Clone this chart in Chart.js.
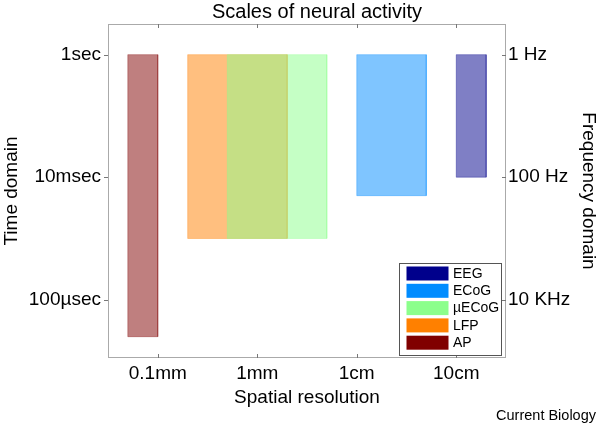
<!DOCTYPE html>
<html>
<head>
<meta charset="utf-8">
<script src="https://cdn.jsdelivr.net/npm/chart.js@4/dist/chart.umd.min.js"></script>
<style>
  body { margin: 0; background: #fff; }
  #wrap { position: relative; width: 600px; height: 426px; }
</style>
</head>
<body>
<div id="wrap"><canvas id="chart" width="600" height="426"></canvas></div>
<script>
// recording methods, spatial extent (m) and time extent (s)
const names = ['EEG', 'ECoG', 'µECoG', 'LFP', 'AP']
const sizeMin = [0.1, 0.01, 0.0005, 0.0002, 0.00005]
const sizeMax = [0.2, 0.05, 0.005, 0.002, 0.0001]
const timeMax = [1, 1, 1, 1, 1]
const timeMin = [0.01, 0.005, 0.001, 0.001, 0.000025]
const colors = ['0,0,140', '0,140,255', '140,255,140', '255,128,0', '128,0,0']

// tick labels
const xTicks = [1e-4, 1e-3, 1e-2, 1e-1]
const xTickLabels = ['0.1mm', '1mm', '1cm', '10cm']
const yTicks = [1, 1e-2, 1e-4]
const timeLabels = ['1sec', '10msec', '100µsec']
const freqLabels = ['1 Hz', '100 Hz', '10 KHz']

const FONT = '"Liberation Sans", Arial, Helvetica, sans-serif'
Chart.defaults.font.family = FONT
Chart.defaults.color = '#000'

// each method is a closed rectangle in (size, time)
const datasets = names.map((name, i) => ({
  label: name,
  data: [
    { x: sizeMin[i], y: timeMax[i] },
    { x: sizeMax[i], y: timeMax[i] },
    { x: sizeMax[i], y: timeMin[i] },
    { x: sizeMin[i], y: timeMin[i] },
    { x: sizeMin[i], y: timeMax[i] },
  ],
  showLine: true,
  fill: 'shape',
  tension: 0,
  pointRadius: 0,
  borderWidth: 1,
  borderColor: `rgba(${colors[i]},0.35)`,
  backgroundColor: `rgba(${colors[i]},0.5)`,
}))

const setTicks = vals => s => { s.ticks = vals.map(v => ({ value: v })) }

// frame, inward ticks, title, legend box and source note
const decor = {
  id: 'decor',
  afterDraw(chart) {
    const { ctx, chartArea: a, scales } = chart
    ctx.save()
    ctx.strokeStyle = '#aaa'
    ctx.lineWidth = 1
    ctx.strokeRect(a.left + 0.5, a.top + 0.5, a.width - 1, a.height - 1)

    ctx.strokeStyle = '#777'
    ctx.beginPath()
    xTicks.forEach(v => {
      const px = Math.round(scales.x.getPixelForValue(v)) + 0.5
      ctx.moveTo(px, a.top); ctx.lineTo(px, a.top + 4)
      ctx.moveTo(px, a.bottom); ctx.lineTo(px, a.bottom - 4)
    })
    yTicks.forEach(v => {
      const py = Math.round(scales.y.getPixelForValue(v)) + 0.5
      ctx.moveTo(a.left, py); ctx.lineTo(a.left - 4, py)
      ctx.moveTo(a.right, py); ctx.lineTo(a.right - 4, py)
    })
    ctx.stroke()

    ctx.fillStyle = '#000'
    ctx.font = '20px ' + FONT
    ctx.textAlign = 'center'
    ctx.textBaseline = 'alphabetic'
    ctx.fillText('Scales of neural activity', 317, 18)

    // legend
    const bw = 102, bh = 92
    const bx = a.right - 5 - bw, by = a.bottom - 3 - bh
    ctx.fillStyle = '#fff'
    ctx.fillRect(bx, by, bw, bh)
    ctx.strokeStyle = '#555'
    ctx.strokeRect(bx + 0.5, by + 0.5, bw, bh)
    ctx.font = '14px ' + FONT
    ctx.textAlign = 'left'
    ctx.textBaseline = 'middle'
    names.forEach((name, i) => {
      const y = by + 3.5 + i * 17.3
      ctx.fillStyle = `rgb(${colors[i]})`
      ctx.fillRect(bx + 7.5, y, 42, 14)
      ctx.fillStyle = '#000'
      ctx.fillText(name, bx + 54, y + 7.5)
    })

    ctx.font = '14.5px ' + FONT
    ctx.textAlign = 'right'
    ctx.textBaseline = 'alphabetic'
    ctx.fillText('Current Biology', 596, 420)
    ctx.restore()
  },
}

new Chart(document.getElementById('chart'), {
  type: 'scatter',
  data: { datasets },
  options: {
    responsive: false,
    animation: false,
    events: [],
    layout: { padding: { top: 24 } },
    plugins: {
      legend: { display: false },
      tooltip: { enabled: false },
      title: { display: false },
    },
    scales: {
      x: {
        type: 'logarithmic',
        position: 'bottom',
        min: Math.pow(10, -4.5),
        max: Math.pow(10, -0.5),
        bounds: 'data',
        afterBuildTicks: setTicks(xTicks),
        afterFit: s => { s.height = 68 },
        grid: { display: false, drawTicks: false },
        border: { display: false },
        ticks: {
          font: { size: 19 },
          padding: 4,
          maxRotation: 0,
          autoSkip: false,
          callback: (v, i) => xTickLabels[i],
        },
        title: {
          display: true,
          text: 'Spatial resolution',
          font: { size: 19 },
          padding: { top: 0, bottom: 17 },
        },
      },
      y: {
        type: 'logarithmic',
        position: 'left',
        min: Math.pow(10, -4.95),
        max: Math.pow(10, 0.5),
        bounds: 'data',
        afterBuildTicks: setTicks(yTicks),
        afterFit: s => { s.width = 108 },
        grid: { display: false, drawTicks: false },
        border: { display: false },
        ticks: {
          font: { size: 19 },
          padding: 7,
          autoSkip: false,
          callback: (v, i) => timeLabels[i],
        },
        title: {
          display: true,
          text: 'Time domain',
          font: { size: 19 },
          padding: { top: 0, bottom: 0 },
        },
      },
      y2: {
        type: 'logarithmic',
        position: 'right',
        min: Math.pow(10, -4.95),
        max: Math.pow(10, 0.5),
        bounds: 'data',
        afterBuildTicks: setTicks(yTicks),
        afterFit: s => { s.width = 94 },
        grid: { display: false, drawTicks: false },
        border: { display: false },
        ticks: {
          font: { size: 19 },
          padding: 2,
          autoSkip: false,
          callback: (v, i) => freqLabels[i],
        },
        title: {
          display: true,
          text: 'Frequency domain',
          font: { size: 19 },
          padding: { top: 0, bottom: 0 },
        },
      },
    },
  },
  plugins: [decor],
})
</script>
</body>
</html>
